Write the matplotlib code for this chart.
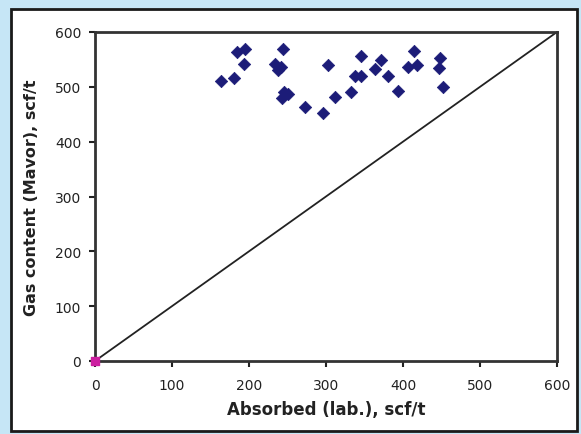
import matplotlib
matplotlib.use("Agg")
import matplotlib.pyplot as plt
from matplotlib.patches import Rectangle

plt.rcParams['font.family'] = ['DejaVu Sans']

absorbed = [164, 180, 185, 195, 193, 244, 234, 242, 238, 246, 251, 243,
            273, 296, 302, 312, 332, 338, 346, 346, 364, 372, 381, 394,
            414, 407, 418, 448, 447, 452]
mavor = [511, 517, 563, 569, 542, 569, 542, 536, 530, 490, 487, 480,
         463, 452, 540, 481, 490, 520, 520, 557, 533, 549, 520, 493,
         566, 536, 540, 553, 534, 500]
origin_x = [0]
origin_y = [0]
line_x = [0, 600]
line_y = [0, 600]
ticks = [0, 100, 200, 300, 400, 500, 600]

W, H = 581, 435
fig = plt.figure(figsize=(W / 100, H / 100), dpi=100)
fig.patch.set_facecolor('#c6e6f6')

panel = Rectangle((11 / W, 1 - 432 / H), (577 - 11) / W, (432 - 10) / H,
                  transform=fig.transFigure, facecolor='white',
                  edgecolor='#1a1a1a', linewidth=2.0, zorder=-10)
fig.patches.append(panel)

ax = fig.add_axes([95 / W, 1 - 362 / H, (557 - 95) / W, (362 - 33) / H])
ax.set_zorder(5)
ax.set_facecolor('white')
ax.plot(line_x, line_y, color='#222222', linewidth=1.3, zorder=2)
ax.scatter(absorbed, mavor, marker='D', s=40, color='#1c1c78',
           edgecolors='#1c1c78', linewidths=0.5, zorder=3)
ax.scatter(origin_x, origin_y, marker='s', s=30, color='#cc1fa0',
           zorder=4, clip_on=False)

ax.set_xlim(0, 600)
ax.set_ylim(0, 600)
ax.set_xticks(ticks)
ax.set_yticks(ticks)
ax.tick_params(direction='out', length=4, width=1.5, colors='#222222',
               labelsize=10)
ax.tick_params(axis='x', pad=8)
ax.tick_params(axis='y', pad=6)
for s in ax.spines.values():
    s.set_linewidth(2.0)
    s.set_color('#333333')

ax.set_xlabel('Absorbed (lab.), scf/t', fontsize=12, fontweight='bold',
              color='#222222', labelpad=6)
ax.set_ylabel('Gas content (Mavor), scf/t', fontsize=11.5, fontweight='bold',
              color='#222222', labelpad=11)

fig.savefig('out.png', dpi=100, facecolor=fig.get_facecolor())
